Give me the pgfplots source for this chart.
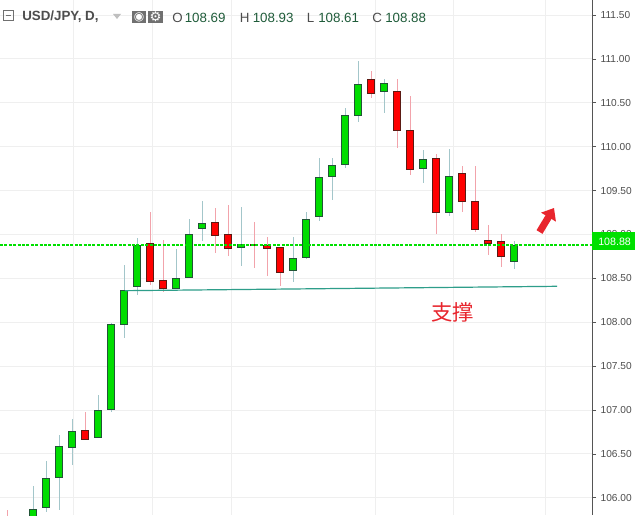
\documentclass[border=0pt]{standalone}
\usepackage{fontspec}
\setmainfont{Liberation Sans}
\newfontfamily\cjk{Noto Sans CJK SC}
\newfontfamily\dejavu{DejaVu Sans}
\usepackage{pgfplots}
\pgfplotsset{compat=1.18}
\usepgfplotslibrary{statistics}
\usetikzlibrary{arrows.meta}

\definecolor{upfill}{HTML}{00DD00}
\definecolor{upedge}{HTML}{225437}
\definecolor{upwick}{HTML}{A3C6CA}
\definecolor{dnfill}{HTML}{FF0000}
\definecolor{dnedge}{HTML}{5B1A13}
\definecolor{dnwick}{HTML}{F2A3AB}
\definecolor{gridgray}{HTML}{EFEFEF}
\definecolor{axisgray}{HTML}{555555}
\definecolor{labelgray}{HTML}{4D4D4D}
\definecolor{pricegreen}{HTML}{00E000}
\definecolor{supportteal}{HTML}{2E9E8A}
\definecolor{notered}{HTML}{E8252D}
\definecolor{valgreen}{HTML}{1F5C3A}
\definecolor{icongray}{HTML}{707070}

% one candle: index, open, close, low, high
\newcommand{\candleU}[5]{\addplot[candle up, boxplot prepared={draw position=#1,
  lower whisker=#4, lower quartile=#2, median=#3, upper quartile=#3, upper whisker=#5}] coordinates {};}
\newcommand{\candleD}[5]{\addplot[candle down, boxplot prepared={draw position=#1,
  lower whisker=#4, lower quartile=#3, median=#3, upper quartile=#2, upper whisker=#5}] coordinates {};}

\begin{document}
\begin{tikzpicture}
\fill[white] (0,0) rectangle (476.25pt,386.25pt);
\begin{axis}[
    at={(0,0)}, anchor=south west,
    scale only axis, width=444pt, height=386.25pt,
    xmin=-0.56, xmax=44.98, ymin=105.805, ymax=111.671,
    axis line style={draw=none},
    xtick={5.09,11.17,17.25,28.36,34.36,41.44}, xticklabels={},
    x tick style={draw=none},
    ytick={106,106.5,107,107.5,108,108.5,109,109.5,110,110.5,111,111.5},
    ytick pos=right, yticklabel pos=right,
    tick align=outside, major tick length=3pt,
    y tick style={draw=axisgray, line width=0.6pt},
    grid=major, grid style={draw=gridgray, line width=0.75pt},
    yticklabel style={font=\fontsize{7.6pt}{9pt}\selectfont, text=labelgray,
        /pgf/number format/.cd, fixed, fixed zerofill, precision=2},
    /pgf/number format/assume math mode=true,
    boxplot/draw direction=y,
    boxplot/box extend=0.57,
    boxplot/whisker extend=0,
    candle up/.style={
        boxplot/every box/.style={draw=upedge, fill=upfill, line width=0.75pt},
        boxplot/every whisker/.style={draw=upwick, line width=0.8pt},
        boxplot/every median/.style={draw=upedge, line width=0.75pt}},
    candle down/.style={
        boxplot/every box/.style={draw=dnedge, fill=dnfill, line width=0.75pt},
        boxplot/every whisker/.style={draw=dnwick, line width=0.8pt},
        boxplot/every median/.style={draw=dnedge, line width=0.75pt}},
]
\candleD{0}{105.78}{105.62}{105.55}{105.86}
\candleU{1}{105.55}{105.75}{105.45}{105.78}
\candleU{2}{105.70}{105.87}{105.60}{106.13}
\candleU{3}{105.89}{106.22}{105.84}{106.42}
\candleU{4}{106.23}{106.59}{105.86}{106.72}
\candleU{5}{106.57}{106.76}{106.37}{106.90}
\candleD{6}{106.77}{106.67}{106.67}{106.98}
\candleU{7}{106.69}{107.00}{106.69}{107.17}
\candleU{8}{107.01}{107.98}{106.98}{107.99}
\candleU{9}{107.98}{108.36}{107.82}{108.65}
\candleU{10}{108.41}{108.87}{108.31}{108.96}
\candleD{11}{108.90}{108.46}{108.42}{109.26}
\candleD{12}{108.48}{108.39}{108.35}{108.94}
\candleU{13}{108.39}{108.50}{108.39}{108.84}
\candleU{14}{108.51}{109.00}{108.51}{109.18}
\candleU{15}{109.07}{109.13}{108.93}{109.38}
\candleD{16}{109.14}{108.99}{108.79}{109.30}
\candleD{17}{109.00}{108.84}{108.76}{109.34}
\candleU{18}{108.85}{108.89}{108.64}{109.31}
\candleD{19}{108.89}{108.87}{108.62}{109.14}
\candleD{20}{108.88}{108.84}{108.53}{108.97}
\candleD{21}{108.85}{108.57}{108.41}{108.85}
\candleU{22}{108.59}{108.73}{108.46}{108.97}
\candleU{23}{108.74}{109.17}{108.72}{109.26}
\candleU{24}{109.20}{109.65}{109.15}{109.87}
\candleU{25}{109.66}{109.79}{109.39}{109.87}
\candleU{26}{109.80}{110.35}{109.76}{110.44}
\candleU{27}{110.35}{110.71}{110.28}{110.98}
\candleD{28}{110.76}{110.61}{110.56}{110.86}
\candleU{29}{110.63}{110.72}{110.38}{110.77}
\candleD{30}{110.63}{110.18}{109.98}{110.77}
\candleD{31}{110.18}{109.74}{109.68}{110.58}
\candleU{32}{109.75}{109.85}{109.59}{109.96}
\candleD{33}{109.87}{109.25}{109.01}{109.92}
\candleU{34}{109.25}{109.66}{109.21}{109.97}
\candleD{35}{109.69}{109.38}{109.26}{109.78}
\candleD{36}{109.38}{109.06}{109.03}{109.78}
\candleD{37}{108.93}{108.90}{108.77}{109.11}
\candleD{38}{108.92}{108.75}{108.63}{109.01}
\candleU{39}{108.69}{108.88}{108.61}{108.93}
% support line
\addplot[supportteal, line width=0.9pt] coordinates {(9.05,108.36) (42.3,108.41)};
% last price line
\addplot[pricegreen, line width=0.9pt, dash pattern=on 2.2pt off 1.1pt]
    coordinates {(-0.56,108.88) (44.98,108.88)};
\end{axis}
% annotations in pixel coordinates of the 635x515 picture
\begin{scope}[x=0.75pt, y=-0.75pt, shift={(0pt,386.25pt)}]
\draw[axisgray, line width=0.75pt] (592,0) -- (592,515);
% last price tag
\fill[pricegreen] (592,232) rectangle (635,250);
\node[text=white, font=\fontsize{8pt}{9pt}\selectfont, anchor=west, inner sep=0pt] at (598,241.5) {108.88};
% header
\draw[icongray, line width=0.75pt] (3,11) rectangle (13,21);
\draw[icongray, line width=0.75pt] (5.5,16) -- (10.5,16);
\node[anchor=base west, inner sep=0pt, text=labelgray, font=\fontsize{10pt}{12pt}\selectfont\bfseries] at (22,20.7) {USD/JPY, D,};
\fill[black!25] (113,14) -- (121,14) -- (117,19) -- cycle;
\fill[icongray] (132,11) rectangle (146,23.5);
\fill[icongray] (148,11) rectangle (163,23.5);
\node[text=white, inner sep=0pt, font=\dejavu\fontsize{9pt}{9pt}\selectfont] at (139,17.2) {◉};
\node[text=white, inner sep=0pt, font=\dejavu\fontsize{10pt}{10pt}\selectfont] at (155.5,17.2) {⚙};
\begin{scope}[every node/.style={anchor=base west, inner sep=0pt, font=\fontsize{10pt}{12pt}\selectfont}]
\node[text=labelgray] at (172,22.5) {O};
\node[text=valgreen] at (184.5,22.5) {108.69};
\node[text=labelgray] at (239.5,22.5) {H};
\node[text=valgreen] at (252.5,22.5) {108.93};
\node[text=labelgray] at (306.5,22.5) {L};
\node[text=valgreen] at (318,22.5) {108.61};
\node[text=labelgray] at (372,22.5) {C};
\node[text=valgreen] at (385,22.5) {108.88};
\end{scope}
% notes
\node[text=notered, inner sep=0pt, font=\cjk\fontsize{16pt}{16pt}\selectfont] at (452.5,312) {支撑};
\draw[notered, line width=5.2pt, -{Triangle[length=8pt, width=12.5pt]}] (539.5,232) -- (554,208);
\end{scope}
\pgfresetboundingbox
\path (0,0) rectangle (476.25pt,386.25pt);
\end{tikzpicture}
\end{document}
